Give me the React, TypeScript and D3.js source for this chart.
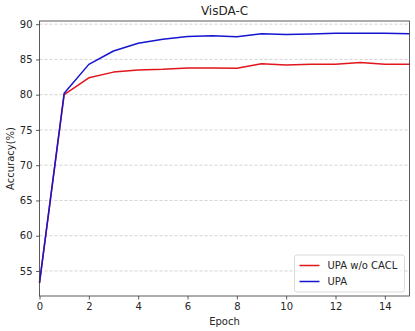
import React, { useEffect, useRef } from 'react';
import * as d3 from 'd3';

const epochs = [0, 1, 2, 3, 4, 5, 6, 7, 8, 9, 10, 11, 12, 13, 14, 15];
const upaNoCacl = [53.3, 80.0, 82.4, 83.2, 83.5, 83.6, 83.8, 83.8, 83.75, 84.4, 84.2, 84.3, 84.3, 84.55, 84.3, 84.3];
const upa = [53.3, 80.2, 84.3, 86.2, 87.3, 87.85, 88.25, 88.35, 88.2, 88.65, 88.55, 88.6, 88.7, 88.7, 88.7, 88.65];
const xTicks = [0, 2, 4, 6, 8, 10, 12, 14];
const yTicks = [55, 60, 65, 70, 75, 80, 85, 90];
const seriesNames = ['UPA w/o CACL', 'UPA'];
const seriesColors = ['#e0161c', '#1515d0'];

const App = () => {
    const svgRef = useRef<SVGSVGElement>(null);
    const width = 415;
    const height = 331;

    useEffect(() => {
        const svg = d3.select(svgRef.current);
        svg.selectAll('*').remove();

        const margin = { top: 21, right: 5.5, bottom: 35, left: 39.5 };
        const innerWidth = width - margin.left - margin.right;
        const innerHeight = height - margin.top - margin.bottom;
        const font = 'DejaVu Sans, sans-serif';
        const textColor = '#262626';

        const g = svg.append('g')
            .attr('transform', `translate(${margin.left},${margin.top})`);

        const x = d3.scaleLinear().domain([0, 15]).range([0, innerWidth]);
        const y = d3.scaleLinear().domain([51.45, 90.45]).range([innerHeight, 0]);

        // grid
        g.selectAll('.grid')
            .data(yTicks)
            .enter()
            .append('line')
            .attr('x1', 0)
            .attr('x2', innerWidth)
            .attr('y1', d => y(d))
            .attr('y2', d => y(d))
            .attr('stroke', '#c8c8c8')
            .attr('stroke-width', 0.8)
            .attr('stroke-dasharray', '3,2');

        // axes
        const xAxis = g.append('g')
            .attr('transform', `translate(0,${innerHeight})`)
            .call(d3.axisBottom(x).tickValues(xTicks).tickSize(3.5).tickPadding(3.5).tickFormat(d3.format('d')));
        const yAxis = g.append('g')
            .call(d3.axisLeft(y).tickValues(yTicks).tickSize(3.5).tickPadding(3.5).tickFormat(d3.format('d')));
        [xAxis, yAxis].forEach(a => {
            a.select('.domain').remove();
            a.selectAll('line').attr('stroke', '#333').attr('stroke-width', 0.8);
            a.selectAll('text').attr('font-family', font).attr('font-size', 10).attr('fill', textColor);
        });

        const line = d3.line<number>()
            .x((_, i) => x(epochs[i]))
            .y(d => y(d));

        [upaNoCacl, upa].forEach((s, i) => {
            g.append('path')
                .datum(s)
                .attr('fill', 'none')
                .attr('stroke', seriesColors[i])
                .attr('stroke-width', 1.5)
                .attr('stroke-linejoin', 'round')
                .attr('d', line);
        });

        // frame
        g.append('rect')
            .attr('width', innerWidth)
            .attr('height', innerHeight)
            .attr('fill', 'none')
            .attr('stroke', '#333')
            .attr('stroke-width', 0.8);

        // legend
        const lg = g.append('g')
            .attr('transform', `translate(${innerWidth - 115},${innerHeight - 41})`);
        lg.append('rect')
            .attr('width', 110)
            .attr('height', 37)
            .attr('rx', 2.5)
            .attr('fill', 'white')
            .attr('fill-opacity', 0.8)
            .attr('stroke', '#d0d0d0')
            .attr('stroke-width', 0.8);
        seriesNames.forEach((name, i) => {
            const ly = 10.5 + i * 16;
            lg.append('line')
                .attr('x1', 5)
                .attr('x2', 25)
                .attr('y1', ly)
                .attr('y2', ly)
                .attr('stroke', seriesColors[i])
                .attr('stroke-width', 1.5);
            lg.append('text')
                .attr('x', 33)
                .attr('y', ly)
                .attr('dy', '0.35em')
                .attr('font-family', font)
                .attr('font-size', 10)
                .attr('fill', textColor)
                .text(name);
        });

        // labels
        svg.append('text')
            .attr('x', margin.left + innerWidth / 2)
            .attr('y', 15)
            .attr('text-anchor', 'middle')
            .attr('font-family', font)
            .attr('font-size', 12)
            .attr('fill', textColor)
            .text('VisDA-C');

        svg.append('text')
            .attr('x', margin.left + innerWidth / 2)
            .attr('y', 325)
            .attr('text-anchor', 'middle')
            .attr('font-family', font)
            .attr('font-size', 10)
            .attr('fill', textColor)
            .text('Epoch');

        svg.append('text')
            .attr('transform', `translate(14,${margin.top + innerHeight / 2}) rotate(-90)`)
            .attr('text-anchor', 'middle')
            .attr('font-family', font)
            .attr('font-size', 10)
            .attr('fill', textColor)
            .text('Accuracy(%)');
    }, []);

    return (
        <svg ref={svgRef} width={width} height={height}
            style={{ position: 'absolute', left: 0, top: 0, background: 'white' }} />
    );
};

export default App;
